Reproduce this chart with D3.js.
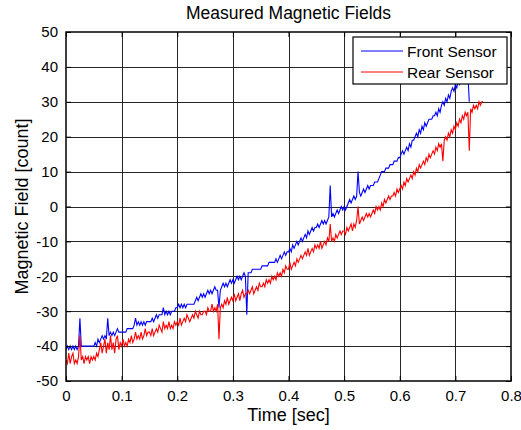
<!DOCTYPE html>
<html>
<head>
<meta charset="utf-8">
<script src="https://cdn.jsdelivr.net/npm/d3@7"></script>
<style>
  html, body { margin: 0; padding: 0; background: #fff; }
  svg { display: block; font-family: "Liberation Sans", Arial, Helvetica, sans-serif; }
</style>
</head>
<body>
<svg id="chart" width="521" height="430"></svg>
<script>
// ---- data ----
const chartTitle = "Measured Magnetic Fields";
const xLabel = "Time [sec]";
const yLabel = "Magnetic Field [count]";
const xTicks = [0, 0.1, 0.2, 0.3, 0.4, 0.5, 0.6, 0.7, 0.8];
const xTickLabels = ["0", "0.1", "0.2", "0.3", "0.4", "0.5", "0.6", "0.7", "0.8"];
const yTicks = [-50, -40, -30, -20, -10, 0, 10, 20, 30, 40, 50];
const yTickLabels = ["-50", "-40", "-30", "-20", "-10", "0", "10", "20", "30", "40", "50"];
const seriesNames = ["Front Sensor", "Rear Sensor"];
const sampleInterval = 0.0025; // sec between samples

const frontValues = [
  -41,-40,-41,-40,-41,-40,-41,-40,-41,-40,
  -32,-40,-40,-40,-40,-40,-40,-40,-40,-40,
  -40,-39,-40,-38,-39,-38,-37,-38,-37,-38,
  -32,-37,-36,-37,-36,-37,-36,-35,-36,-36,
  -36,-36,-36,-36,-35,-35,-35,-35,-35,-34,
  -32,-34,-33,-34,-33,-34,-33,-34,-33,-33,
  -33,-33,-32,-33,-32,-31,-32,-31,-31,-31,
  -29,-31,-30,-31,-30,-31,-30,-30,-30,-29,
  -29,-28,-29,-28,-29,-28,-29,-28,-28,-28,
  -28,-28,-28,-27,-26,-27,-26,-25,-26,-25,
  -26,-25,-24,-25,-24,-25,-24,-23,-24,-24,
  -29,-24,-23,-22,-23,-22,-23,-22,-21,-22,
  -21,-22,-21,-20,-21,-20,-21,-20,-19,-20,
  -31,-19,-19,-19,-18,-18,-18,-18,-18,-18,
  -18,-17,-17,-17,-17,-17,-16,-16,-16,-16,
  -16,-15,-16,-15,-14,-15,-14,-13,-14,-13,
  -13,-12,-13,-11,-12,-11,-10,-11,-10,-9,
  -10,-9,-8,-9,-7,-8,-7,-6,-7,-6,
  -6,-5,-6,-5,-4,-5,-4,-5,-4,-3,
  6,-3,-2,-3,-2,-1,-2,-1,0,-1,
  0,-1,0,1,2,1,2,3,2,3,
  10,4,3,4,5,4,5,6,5,6,
  6,6,7,7,7,8,9,10,10,10,
  11,11,11,12,12,12,13,13,13,14,
  14,15,16,15,16,17,16,18,17,19,
  19,20,21,20,22,21,23,22,24,23,
  24,25,25,25,26,26,27,26,28,27,
  29,30,29,31,30,32,31,33,34,33,
  35,34,36,35,37,36,38,37,38,38,
  30
];

const rearValues = [
  -44,-45,-42,-45,-43,-42,-45,-44,-45,-43,
  -37,-44,-43,-45,-43,-44,-43,-45,-43,-44,
  -43,-44,-42,-43,-41,-39,-42,-40,-38,-42,
  -39,-41,-37,-41,-39,-42,-38,-37,-41,-39,
  -40,-38,-40,-39,-40,-38,-39,-37,-39,-38,
  -36,-38,-37,-38,-36,-38,-37,-35,-37,-36,
  -36,-37,-35,-37,-36,-35,-36,-34,-35,-36,
  -33,-35,-34,-35,-33,-35,-34,-35,-33,-34,
  -33,-34,-32,-34,-33,-32,-33,-31,-32,-33,
  -32,-31,-32,-30,-31,-32,-30,-31,-31,-30,
  -30,-31,-29,-30,-30,-28,-30,-29,-30,-28,
  -38,-29,-28,-29,-27,-28,-26,-28,-27,-26,
  -27,-25,-27,-26,-25,-27,-25,-24,-26,-25,
  -25,-24,-25,-24,-23,-25,-24,-23,-24,-22,
  -23,-23,-22,-23,-21,-22,-21,-22,-20,-21,
  -20,-21,-19,-20,-19,-20,-18,-19,-17,-18,
  -18,-16,-18,-17,-16,-17,-15,-16,-15,-14,
  -15,-14,-13,-14,-12,-14,-13,-12,-13,-11,
  -12,-11,-12,-10,-12,-11,-10,-11,-9,-10,
  -5,-10,-9,-10,-8,-9,-8,-7,-8,-7,
  -7,-8,-6,-7,-6,-5,-7,-5,-6,-4,
  0,-5,-4,-3,-4,-3,-2,-3,-2,-3,
  -2,-1,-2,0,-1,0,-1,1,0,2,
  1,2,3,2,3,3,4,3,5,4,
  5,6,5,7,6,8,7,8,9,8,
  10,9,11,10,12,11,12,13,12,14,
  13,15,14,15,16,15,17,16,18,17,
  18,13,19,20,19,21,20,22,21,23,
  22,24,23,25,24,26,25,27,26,27,
  16,28,27,29,28,29,28,30,29,30,
  30
];

// ---- chart ----
const svg = d3.select("#chart");
const plot = { left: 66, right: 511, top: 32, bottom: 381 };

const x = d3.scaleLinear().domain([0, 0.8]).range([plot.left, plot.right]);
const y = d3.scaleLinear().domain([-50, 50]).range([plot.bottom, plot.top]);

const seriesData = [
  { name: seriesNames[0], color: "#0000ff", values: frontValues },
  { name: seriesNames[1], color: "#ff0000", values: rearValues }
];

// grid
const grid = svg.append("g").attr("stroke", "#262626").attr("stroke-width", 1);
grid.selectAll(".gx").data(xTicks.slice(1, -1)).enter().append("line")
  .attr("x1", d => Math.round(x(d)) + 0.5).attr("x2", d => Math.round(x(d)) + 0.5)
  .attr("y1", plot.top).attr("y2", plot.bottom);
grid.selectAll(".gy").data(yTicks.slice(1, -1)).enter().append("line")
  .attr("y1", d => Math.round(y(d)) + 0.5).attr("y2", d => Math.round(y(d)) + 0.5)
  .attr("x1", plot.left).attr("x2", plot.right);

// clip
svg.append("clipPath").attr("id", "clip").append("rect")
  .attr("x", plot.left).attr("y", plot.top)
  .attr("width", plot.right - plot.left).attr("height", plot.bottom - plot.top);

const line = d3.line()
  .x((d, i) => x(i * sampleInterval))
  .y(d => y(d));

svg.append("g").attr("clip-path", "url(#clip)")
  .selectAll("path").data(seriesData).enter().append("path")
  .attr("fill", "none")
  .attr("stroke", d => d.color)
  .attr("stroke-width", 1.1)
  .attr("d", d => line(d.values));

// axes (ticks inside)
const fontSize = 15;
const xAxisG = svg.append("g").attr("transform", `translate(0,${plot.bottom})`)
  .call(d3.axisBottom(x).tickValues(xTicks).tickFormat((d, i) => xTickLabels[i]).tickSizeInner(-5).tickSizeOuter(0).tickPadding(9));
const yAxisG = svg.append("g").attr("transform", `translate(${plot.left},0)`)
  .call(d3.axisLeft(y).tickValues(yTicks).tickFormat((d, i) => yTickLabels[i]).tickSizeInner(-5).tickSizeOuter(0).tickPadding(8));
const xTopG = svg.append("g").attr("transform", `translate(0,${plot.top})`)
  .call(d3.axisTop(x).tickValues(xTicks).tickFormat("").tickSizeInner(-5).tickSizeOuter(0));
const yRightG = svg.append("g").attr("transform", `translate(${plot.right},0)`)
  .call(d3.axisRight(y).tickValues(yTicks).tickFormat("").tickSizeInner(-5).tickSizeOuter(0));
[xAxisG, yAxisG, xTopG, yRightG].forEach(g => {
  g.select(".domain").remove();
  g.selectAll("line").attr("stroke", "#000");
  g.selectAll("text").attr("fill", "#000").attr("font-size", fontSize)
    .attr("font-family", "'Liberation Sans', Arial, sans-serif");
});

// frame
svg.append("rect")
  .attr("x", plot.left).attr("y", plot.top)
  .attr("width", plot.right - plot.left).attr("height", plot.bottom - plot.top)
  .attr("fill", "none").attr("stroke", "#000").attr("stroke-width", 1.5);

// title & labels
svg.append("text").attr("x", (plot.left + plot.right) / 2).attr("y", 19)
  .attr("text-anchor", "middle").attr("font-size", 17.5).attr("fill", "#000").text(chartTitle);
svg.append("text").attr("x", (plot.left + plot.right) / 2).attr("y", 421)
  .attr("text-anchor", "middle").attr("font-size", 18).attr("fill", "#000").text(xLabel);
svg.append("text").attr("transform", `translate(28,${(plot.top + plot.bottom) / 2}) rotate(-90)`)
  .attr("text-anchor", "middle").attr("font-size", 18).attr("fill", "#000").text(yLabel);

// legend
const legend = svg.append("g").attr("transform", "translate(353,37)");
legend.append("rect").attr("width", 154).attr("height", 47)
  .attr("fill", "#fff").attr("stroke", "#000").attr("stroke-width", 1.2);
const items = legend.selectAll(".item").data(seriesData).enter().append("g")
  .attr("transform", (d, i) => `translate(0,${14 + i * 21})`);
items.append("line").attr("x1", 8).attr("x2", 50).attr("y1", 0).attr("y2", 0)
  .attr("stroke", d => d.color).attr("stroke-width", 1);
items.append("text").attr("x", 54).attr("y", 5.5).attr("font-size", 15.5)
  .attr("fill", "#000").text(d => d.name);
</script>
</body>
</html>
